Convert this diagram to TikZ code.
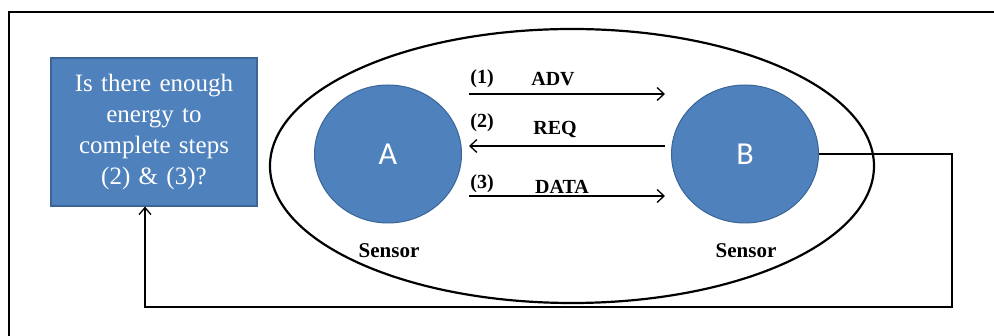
\documentclass[tikz,border=0pt]{standalone}
\usepackage{fontspec}
\setmainfont{Liberation Serif}
\newfontfamily\calib{Carlito}
\usetikzlibrary{arrows.meta,calc}
\definecolor{boxblue}{HTML}{4F81BD}
\definecolor{boxedge}{HTML}{3A6596}
\tikzset{
  qbox/.style={draw=boxedge, line width=1.2pt, fill=boxblue, text=white, minimum width=206pt, minimum height=148pt, text width=190pt, align=center, inner sep=0pt, font=\fontsize{25}{31}\selectfont},
  sensor/.style={draw=boxedge, line width=1pt, fill=boxblue, text=white, ellipse, minimum width=147pt, minimum height=138pt, inner sep=0pt, font=\calib\fontsize{32}{34}\selectfont},
  lbl/.style={font=\bfseries\fontsize{20}{22}\selectfont, inner sep=0pt},
  slbl/.style={font=\bfseries\fontsize{21}{24}\selectfont, inner sep=0pt},
  msg/.style={line width=1.3pt, -{Straight Barb[length=7pt,width=13pt,line width=1.3pt]}},
  fb/.style={line width=1.3pt, -{Straight Barb[length=7pt,width=12pt,line width=1.3pt]}}
}
\usetikzlibrary{shapes.geometric}
\begin{document}
\begin{tikzpicture}[x=1pt,y=-1pt]
\useasboundingbox (0,0) rectangle (994,336);
\fill[white] (0,0) rectangle (994,336);
% frame (cropped)
\draw[line width=1.8pt] (9,336) -- (9,12) -- (994,12);
% question box
\node[qbox] (q) at (154,132) {Is there enough energy to complete steps (2) \& (3)?};
% big ellipse
\node[draw, line width=2.2pt, ellipse, minimum width=604pt, minimum height=274pt, inner sep=0pt] (E) at (572,166) {};
% sensors
\node[sensor] (A) at (388,154) {A};
\node[sensor] (B) at (745,154) {B};
\node[slbl] (sa) at (389,251) {Sensor};
\node[slbl] (sb) at (746,251) {Sensor};
% message arrows
\coordinate (a1) at (469,94);
\coordinate (b1) at (665,94);
\coordinate (a2) at (469,146);
\coordinate (b2) at (665,146);
\coordinate (a3) at (469,196);
\coordinate (b3) at (665,196);
\draw[msg] (a1) -- (b1);
\draw[msg] (b2) -- (a2);
\draw[msg] (a3) -- (b3);
\node[lbl] (l1) at (482,79) {(1)};
\node[lbl] (m1) at (553,79) {ADV};
\node[lbl] (l2) at (482,123) {(2)};
\node[lbl] (m2) at (555,130) {REQ};
\node[lbl] (l3) at (482,184) {(3)};
\node[lbl] (m3) at (562,187) {DATA};
% feedback path
\coordinate (c1) at (952,154);
\coordinate (c2) at (145,307);
\draw[fb] (B.east) -- (c1) |- (c2) -- (c2 |- q.south);
\end{tikzpicture}
\end{document}
